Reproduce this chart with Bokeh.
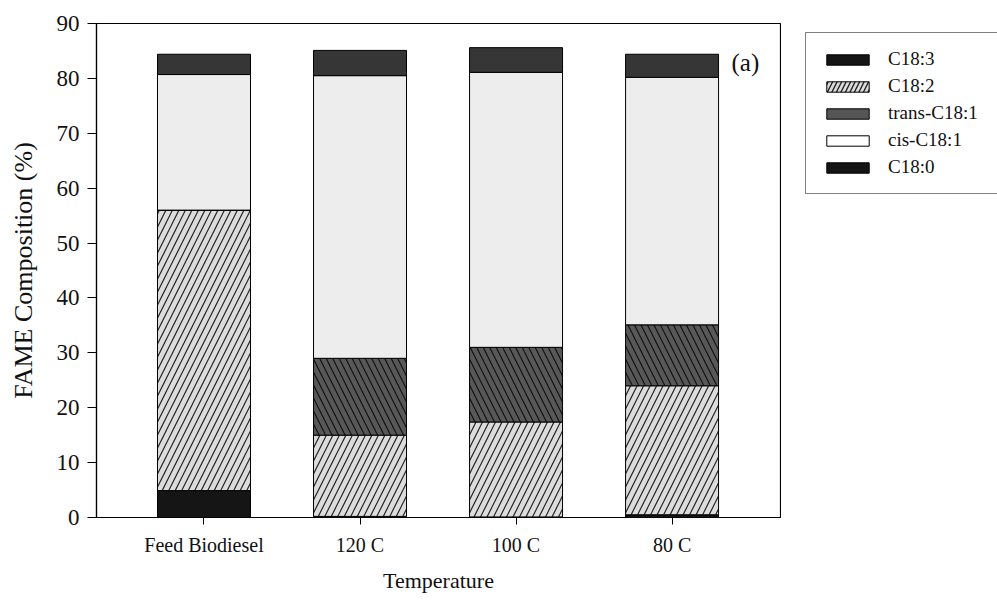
from bokeh.plotting import figure
from bokeh.layouts import row
from bokeh.models import Range1d, ColumnDataSource, Legend, LegendItem, FixedTicker, Label
from bokeh.embed import file_html
from bokeh.resources import INLINE
import numpy as np

categories = ["Feed Biodiesel", "120 C", "100 C", "80 C"]
c18_0 = [4.9, 0.2, 0.1, 0.5]
c18_2 = [51.1, 14.8, 17.3, 23.5]
trans_c18_1 = [0.0, 14.0, 13.6, 11.1]
cis_c18_1 = [24.7, 51.5, 50.1, 45.1]
c18_3 = [3.7, 4.6, 4.5, 4.2]
y_ticks = [0, 10, 20, 30, 40, 50, 60, 70, 80, 90]

FONT = "Liberation Serif"
TXT = "#111111"

p = figure(width=781, height=601, output_backend="svg", toolbar_location=None,
           min_border_left=96, min_border_right=1, min_border_top=23, min_border_bottom=84,
           x_range=Range1d(-0.689, 3.695), y_range=Range1d(0, 90))
p.background_fill_color = "white"
p.border_fill_color = "white"
p.outline_line_color = "black"
p.outline_line_width = 1.2
p.xgrid.visible = False
p.ygrid.visible = False

xs = list(range(len(categories)))
layers = [
    ("C18:0", c18_0, dict(fill_color="#151515")),
    ("C18:2", c18_2, dict(fill_color="#dcdcdc", hatch_pattern="/", hatch_color="#222222", hatch_scale=13, hatch_weight=1.2)),
    ("trans-C18:1", trans_c18_1, dict(fill_color="#585858", hatch_pattern="\\", hatch_color="#111111", hatch_scale=13, hatch_weight=1.2)),
    ("cis-C18:1", cis_c18_1, dict(fill_color="#ededed")),
    ("C18:3", c18_3, dict(fill_color="#363636")),
]
bottom = np.zeros(len(categories))
for name, vals, style in layers:
    v = np.array(vals, dtype=float)
    src = ColumnDataSource(dict(x=xs, bottom=bottom.copy(), top=bottom + v))
    p.vbar(x="x", bottom="bottom", top="top", width=0.596, source=src,
           line_color="black", line_width=1, **style)
    bottom = bottom + v

p.add_layout(Label(x=3.47, y=82.9, text="(a)",
                   text_font=FONT, text_font_size="25px", text_color=TXT,
                   text_align="center", text_baseline="middle"))

# axes
p.yaxis.ticker = FixedTicker(ticks=y_ticks)
p.yaxis.axis_label = "FAME Composition (%)"
p.xaxis.ticker = FixedTicker(ticks=xs)
p.xaxis.major_label_overrides = {i: c for i, c in enumerate(categories)}
p.xaxis.axis_label = "Temperature"
for ax in (p.xaxis, p.yaxis):
    ax.axis_line_color = "black"
    ax.axis_line_width = 1.2
    ax.major_tick_line_color = "black"
    ax.major_tick_in = 0
    ax.minor_tick_line_color = None
    ax.major_label_text_font = FONT
    ax.major_label_text_color = TXT
    ax.axis_label_text_font = FONT
    ax.axis_label_text_font_style = "normal"
    ax.axis_label_text_color = TXT
p.yaxis.major_tick_out = 9
p.xaxis.major_tick_out = 7
p.yaxis.major_label_text_font_size = "23px"
p.xaxis.major_label_text_font_size = "20px"
p.yaxis.axis_label_text_font_size = "26px"
p.xaxis.axis_label_text_font_size = "22px"
p.yaxis.major_label_standoff = 8
p.yaxis.axis_label_standoff = 16
p.xaxis.major_label_standoff = 9
p.xaxis.axis_label_standoff = 9

# legend panel (separate figure so the box can run past the window edge)
q = figure(width=216, height=601, output_backend="svg", toolbar_location=None,
           min_border=0, x_axis_location=None, y_axis_location=None,
           x_range=Range1d(0, 1), y_range=Range1d(0, 1))
q.outline_line_color = None
q.xgrid.visible = False
q.ygrid.visible = False
q.background_fill_color = "white"
q.border_fill_color = "white"

legend_names = ["C18:3", "C18:2", "trans-C18:1", "cis-C18:1", "C18:0"]
legend_styles = [
    dict(fill_color="#151515"),
    dict(fill_color="#dcdcdc", hatch_pattern="/", hatch_color="#222222", hatch_scale=9, hatch_weight=1.4),
    dict(fill_color="#555555"),
    dict(fill_color="white"),
    dict(fill_color="#151515"),
]
items = []
for name, style in zip(legend_names, legend_styles):
    offscreen = ColumnDataSource(dict(x=[5.0], bottom=[5.0], top=[6.0]))
    r = q.vbar(x="x", bottom="bottom", top="top", width=0.5, source=offscreen,
               line_color="black", line_width=1, **style)
    items.append(LegendItem(label=name, renderers=[r]))

legend = Legend(items=items, location=(24, 323), orientation="vertical",
                glyph_width=53, glyph_height=13, label_height=20, spacing=5,
                label_standoff=14, padding=15, margin=0, label_width=160,
                label_text_font=FONT, label_text_font_size="19px", label_text_color=TXT,
                border_line_color="black", border_line_width=1.2,
                background_fill_color="white", background_fill_alpha=1)
q.add_layout(legend, "center")

layout = row(p, q, spacing=0)
open("out.html", "w").write(file_html(layout, INLINE))
